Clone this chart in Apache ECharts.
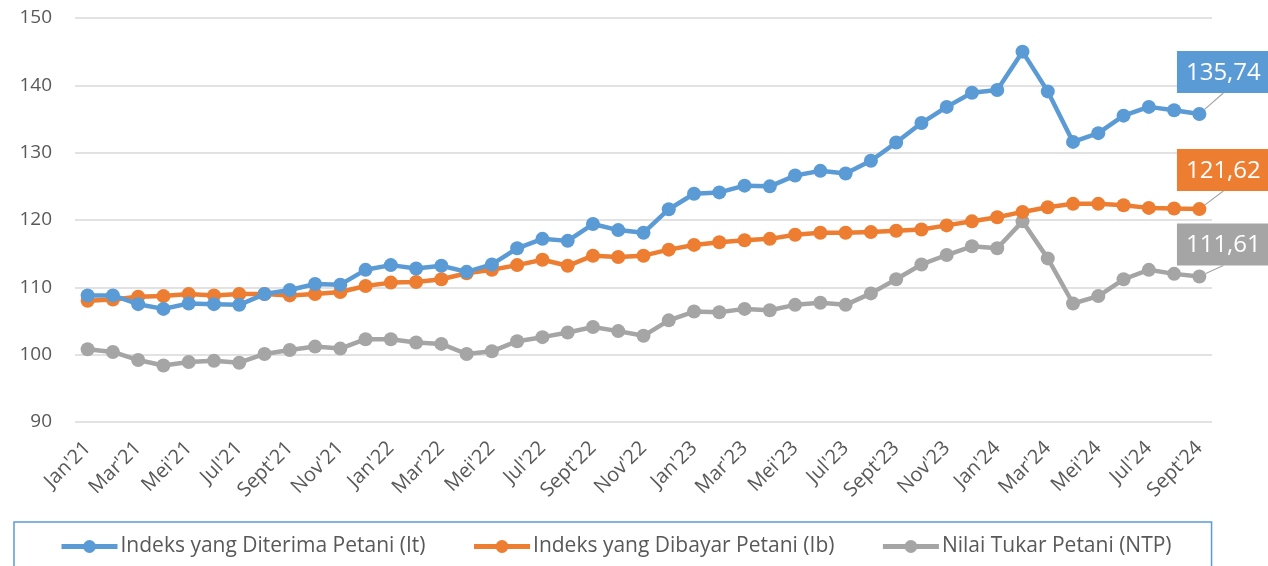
<!DOCTYPE html>
<html>
<head>
<meta charset="utf-8">
<script src="https://cdn.jsdelivr.net/npm/echarts@6/dist/echarts.min.js"></script>
<style>
  html, body { margin: 0; padding: 0; background: #ffffff; }
  #chart { width: 1268px; height: 566px; }
</style>
</head>
<body>
<div id="chart"></div>
<script>
// bulan Jan'21 - Sept'24
const months = [
  "Jan'21", "Feb'21", "Mar'21", "Apr'21", "Mei'21", "Jun'21", "Jul'21", "Agu'21", "Sept'21", "Okt'21", "Nov'21", "Des'21",
  "Jan'22", "Feb'22", "Mar'22", "Apr'22", "Mei'22", "Jun'22", "Jul'22", "Agu'22", "Sept'22", "Okt'22", "Nov'22", "Des'22",
  "Jan'23", "Feb'23", "Mar'23", "Apr'23", "Mei'23", "Jun'23", "Jul'23", "Agu'23", "Sept'23", "Okt'23", "Nov'23", "Des'23",
  "Jan'24", "Feb'24", "Mar'24", "Apr'24", "Mei'24", "Jun'24", "Jul'24", "Agu'24", "Sept'24"
]

// Indeks yang Diterima Petani (It)
const itValues = [
  108.8, 108.8, 107.5, 106.8, 107.6, 107.5, 107.4, 109.0, 109.6, 110.5, 110.4, 112.6,
  113.3, 112.8, 113.2, 112.3, 113.4, 115.8, 117.2, 116.9, 119.4, 118.5, 118.1, 121.6,
  123.9, 124.1, 125.1, 125.0, 126.6, 127.3, 126.9, 128.8, 131.5, 134.4, 136.8, 138.9,
  139.3, 145.0, 139.1, 131.6, 132.9, 135.5, 136.8, 136.3, 135.74
]

// Indeks yang Dibayar Petani (Ib)
const ibValues = [
  108.0, 108.2, 108.6, 108.7, 109.0, 108.8, 109.0, 109.0, 108.8, 109.0, 109.3, 110.2,
  110.7, 110.8, 111.2, 112.1, 112.6, 113.3, 114.1, 113.2, 114.7, 114.5, 114.7, 115.6,
  116.3, 116.7, 117.0, 117.2, 117.8, 118.1, 118.1, 118.2, 118.4, 118.6, 119.2, 119.8,
  120.4, 121.2, 121.9, 122.4, 122.4, 122.2, 121.8, 121.7, 121.62
]

// Nilai Tukar Petani (NTP)
const ntpValues = [
  100.8, 100.4, 99.2, 98.4, 98.9, 99.1, 98.8, 100.1, 100.7, 101.2, 100.9, 102.3,
  102.3, 101.8, 101.6, 100.1, 100.5, 102.0, 102.6, 103.3, 104.1, 103.5, 102.8, 105.1,
  106.4, 106.3, 106.8, 106.6, 107.4, 107.7, 107.4, 109.1, 111.2, 113.4, 114.8, 116.1,
  115.8, 119.8, 114.3, 107.6, 108.7, 111.2, 112.6, 112.0, 111.61
]

const yTicks = [90, 100, 110, 120, 130, 140, 150]

const seriesNames = [
  'Indeks yang Diterima Petani (It)',
  'Indeks yang Dibayar Petani (Ib)',
  'Nilai Tukar Petani (NTP)',
]
const seriesColors = ['#5b9bd5', '#ed7d31', '#a5a5a5']
const seriesData = [itValues, ibValues, ntpValues]
// geser label nilai terakhir
const labelShift = [
  { dx: 24, dy: -9 },
  { dx: 24, dy: -6 },
  { dx: 24, dy: 1 },
]

const textColor = '#595959'
const fontFamily = '"Open Sans", sans-serif'

const chart = echarts.init(document.getElementById('chart'))

const lastIndex = months.length - 1

chart.setOption({
  animation: false,
  textStyle: {
    fontFamily: fontFamily,
    color: textColor,
  },
  grid: {
    left: 75,
    right: 56,
    top: 18,
    bottom: 144,
  },
  xAxis: {
    type: 'category',
    data: months,
    boundaryGap: true,
    axisLine: {
      show: false,
    },
    axisTick: {
      show: false,
    },
    axisLabel: {
      interval: 1,
      rotate: 45,
      margin: 23,
      fontSize: 20,
      color: textColor,
      fontFamily: fontFamily,
    },
  },
  yAxis: {
    type: 'value',
    min: yTicks[0],
    max: yTicks[yTicks.length - 1],
    interval: 10,
    axisLine: {
      show: false,
    },
    axisTick: {
      show: false,
    },
    axisLabel: {
      margin: 23,
      fontSize: 19,
      color: textColor,
      fontFamily: fontFamily,
    },
    splitLine: {
      show: true,
      lineStyle: {
        color: '#d9d9d9',
        width: 1.5,
      },
    },
  },
  legend: {
    left: 14,
    top: 522,
    itemWidth: 56,
    itemHeight: 16,
    itemGap: 46,
    padding: [14, 40, 10, 45],
    borderColor: '#5b9bd5',
    borderWidth: 1.5,
    lineStyle: {
      width: 5,
    },
    textStyle: {
      fontSize: 21,
      color: textColor,
      fontFamily: fontFamily,
      padding: [0, 0, 0, -2],
    },
    data: seriesNames,
  },
  series: seriesNames.map((name, s) => ({
    name: name,
    type: 'line',
    data: seriesData[s].map((v, i) =>
      i === lastIndex
        ? {
            value: v,
            label: {
              show: true,
              formatter: (p) => String(p.value).replace('.', ','),
              color: '#ffffff',
              fontSize: 24,
              fontFamily: fontFamily,
              backgroundColor: seriesColors[s],
              padding: [10, 9, 8, 9],
            },
          }
        : v
    ),
    symbol: 'circle',
    symbolSize: 14,
    smooth: false,
    lineStyle: {
      color: seriesColors[s],
      width: 4.5,
    },
    itemStyle: {
      color: seriesColors[s],
    },
    label: {
      show: false,
    },
    labelLayout: labelShift[s],
    labelLine: {
      show: true,
      lineStyle: {
        color: '#a5a5a5',
        width: 1.2,
      },
    },
    z: 10 - s,
  })),
})
</script>
</body>
</html>
